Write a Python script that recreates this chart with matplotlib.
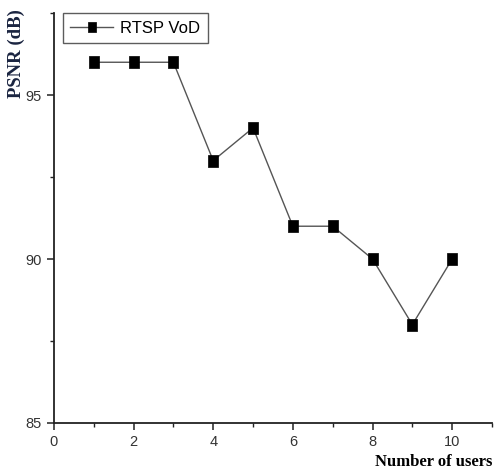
import matplotlib
matplotlib.use('Agg')
import matplotlib.pyplot as plt
from matplotlib.ticker import MultipleLocator

users = [1, 2, 3, 4, 5, 6, 7, 8, 9, 10]
psnr = [96, 96, 96, 93, 94, 91, 91, 90, 88, 90]
series_label = 'RTSP VoD'

# tall rectangle marker (a bit narrower than high, like the original)
rect = [(-0.38, -0.5), (0.38, -0.5), (0.38, 0.5), (-0.38, 0.5), (-0.38, -0.5)]

fig = plt.figure(figsize=(4.99, 4.75), dpi=100)
ax = fig.add_axes([0.108, 0.1095, 0.878, 0.863])

ax.plot(users, psnr, color='#555555', linewidth=1.0, marker=rect,
        markersize=8.6, markerfacecolor='black', markeredgecolor='black',
        markeredgewidth=0.5, label=series_label)

ax.set_xlim(0, 11)
ax.set_ylim(85, 97.5)
ax.xaxis.set_major_locator(MultipleLocator(2))
ax.xaxis.set_minor_locator(MultipleLocator(1))
ax.yaxis.set_major_locator(MultipleLocator(5))
ax.yaxis.set_minor_locator(MultipleLocator(2.5))

for s in ['top', 'right']:
    ax.spines[s].set_visible(False)
for s in ['left', 'bottom']:
    ax.spines[s].set_linewidth(1.3)
    ax.spines[s].set_color('#222222')

ax.tick_params(which='major', direction='out', length=5, width=1.1,
               labelsize=10.5, colors='#222222', labelcolor='#333333')
ax.tick_params(which='minor', direction='out', length=3, width=1.0, colors='#222222')
for lab in ax.get_xticklabels() + ax.get_yticklabels():
    lab.set_family('Liberation Sans')

leg = ax.legend(loc='upper left', bbox_to_anchor=(0.02, 1.0), borderaxespad=0.0,
                frameon=True, fancybox=False, edgecolor='#333333', borderpad=0.45,
                handlelength=2.6, handletextpad=0.4, markerscale=0.85,
                prop={'family': 'Liberation Sans', 'size': 12})
leg.get_frame().set_linewidth(1.0)

fig.text(0.032, 0.98, 'PSNR (dB)', rotation=90, ha='center', va='top',
         family='Liberation Serif', fontweight='bold', fontsize=13.5, color='#1a2440')
fig.text(0.986, 0.027, 'Number of users', ha='right', va='center',
         family='Liberation Serif', fontweight='bold', fontsize=12, color='black')

plt.savefig('out.png', dpi=100)
plt.close()
